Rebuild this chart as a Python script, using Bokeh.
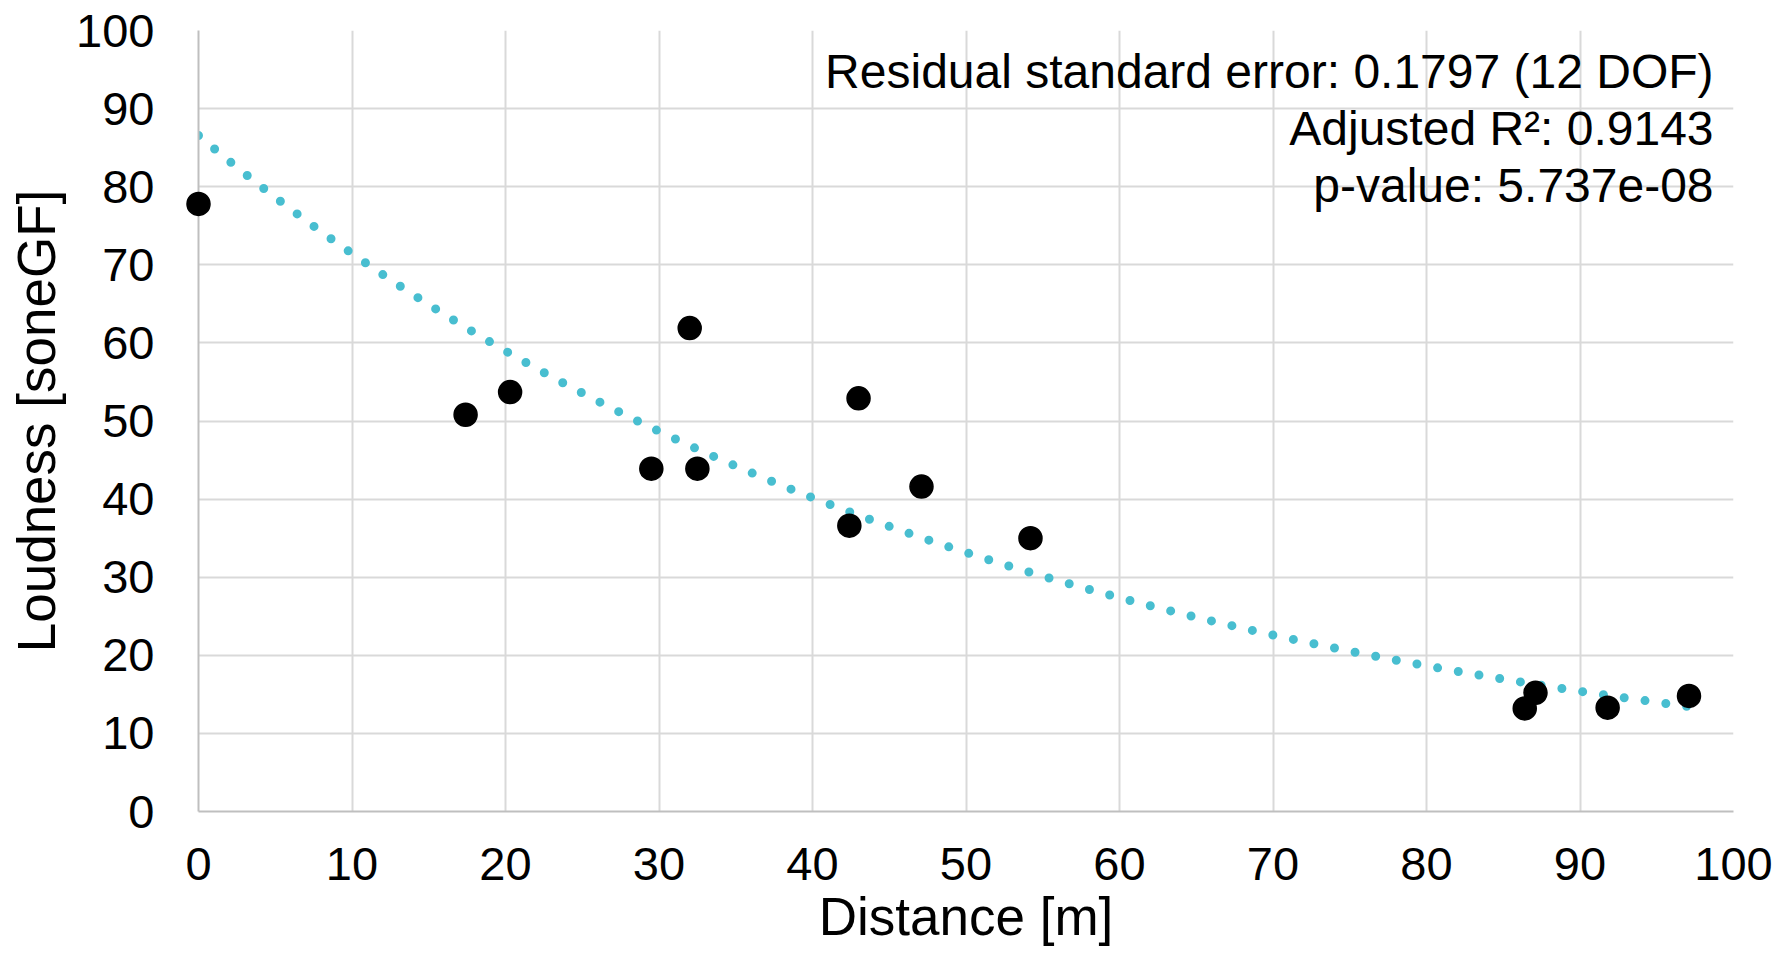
import numpy as np
from bokeh.plotting import figure
from bokeh.models import Range1d, FixedTicker, Label
from bokeh.core.properties import value
from bokeh.embed import file_html
from bokeh.resources import INLINE

# ---- data ----
distance = [0.0, 17.4, 20.3, 29.5, 32.0, 32.5, 42.4, 43.0, 47.1, 54.2, 86.4, 87.1, 91.8, 97.1]
loudness = [77.8, 50.8, 53.7, 43.9, 61.9, 43.9, 36.6, 52.9, 41.6, 35.0, 13.2, 15.2, 13.3, 14.8]
x_ticks = [0, 10, 20, 30, 40, 50, 60, 70, 80, 90, 100]
y_ticks = [0, 10, 20, 30, 40, 50, 60, 70, 80, 90, 100]
x_title = "Distance [m]"
y_title = "Loudness [soneGF]"
stats_lines = [
    "Residual standard error: 0.1797 (12 DOF)",
    "Adjusted R²: 0.9143",
    "p-value: 5.737e-08",
]

# exponential trendline fitted to the data (log-linear least squares)
b, ln_a = np.polyfit(np.array(distance), np.log(np.array(loudness)), 1)
trend_x = np.linspace(min(distance), max(distance), 300)
trend_y = np.exp(ln_a) * np.exp(b * trend_x)

FONT = "Liberation Sans"

p = figure(
    width=1773, height=946,
    x_range=Range1d(0, 100), y_range=Range1d(0, 100),
    output_backend="svg", toolbar_location=None,
    min_border_left=198, min_border_right=40, min_border_top=30, min_border_bottom=135,
)
p.background_fill_color = "white"
p.border_fill_color = "white"
p.outline_line_color = None

for ax, ticks in ((p.xaxis[0], x_ticks), (p.yaxis[0], y_ticks)):
    ax.ticker = FixedTicker(ticks=ticks)
    ax.major_tick_in = 0
    ax.major_tick_out = 0
    ax.minor_tick_in = 0
    ax.minor_tick_out = 0
    ax.axis_line_color = "#BFBFBF"
    ax.axis_line_width = 2
    ax.major_label_text_font = FONT
    ax.major_label_text_font_size = "47px"
    ax.major_label_text_color = "black"
    ax.axis_label_text_font = FONT
    ax.axis_label_text_font_size = "53px"
    ax.axis_label_text_font_style = "normal"
    ax.axis_label_text_color = "black"

p.yaxis[0].axis_label = y_title
p.xaxis[0].major_label_standoff = 36
p.yaxis[0].major_label_standoff = 44
p.yaxis[0].axis_label_standoff = 7

p.xgrid.ticker = FixedTicker(ticks=x_ticks)
p.ygrid.ticker = FixedTicker(ticks=y_ticks)
p.grid.grid_line_color = "#D9D9D9"
p.grid.grid_line_width = 2

p.line(trend_x, trend_y, line_color="#48BED0", line_width=9,
       line_dash="0 21", line_cap="round")

r = p.scatter(distance, loudness, size=23, marker="circle",
              fill_color="black", line_color="black", line_width=1.5)
r.level = "overlay"

# x-axis title, drawn below the tick labels (unclipped overlay level)
xt = p.text(x=[50], y=[-13.4], text=[x_title], text_align="center",
            text_baseline="alphabetic", text_font=value(FONT),
            text_font_size="53px", text_color="black")
xt.level = "overlay"

for i, txt in enumerate(stats_lines):
    p.add_layout(Label(
        x=98.7, y=94.75 - i * 7.3, text=txt,
        text_align="right", text_baseline="alphabetic",
        text_font=FONT, text_font_size="48px", text_color="black",
    ))

open("out.html", "w").write(file_html(p, INLINE))
